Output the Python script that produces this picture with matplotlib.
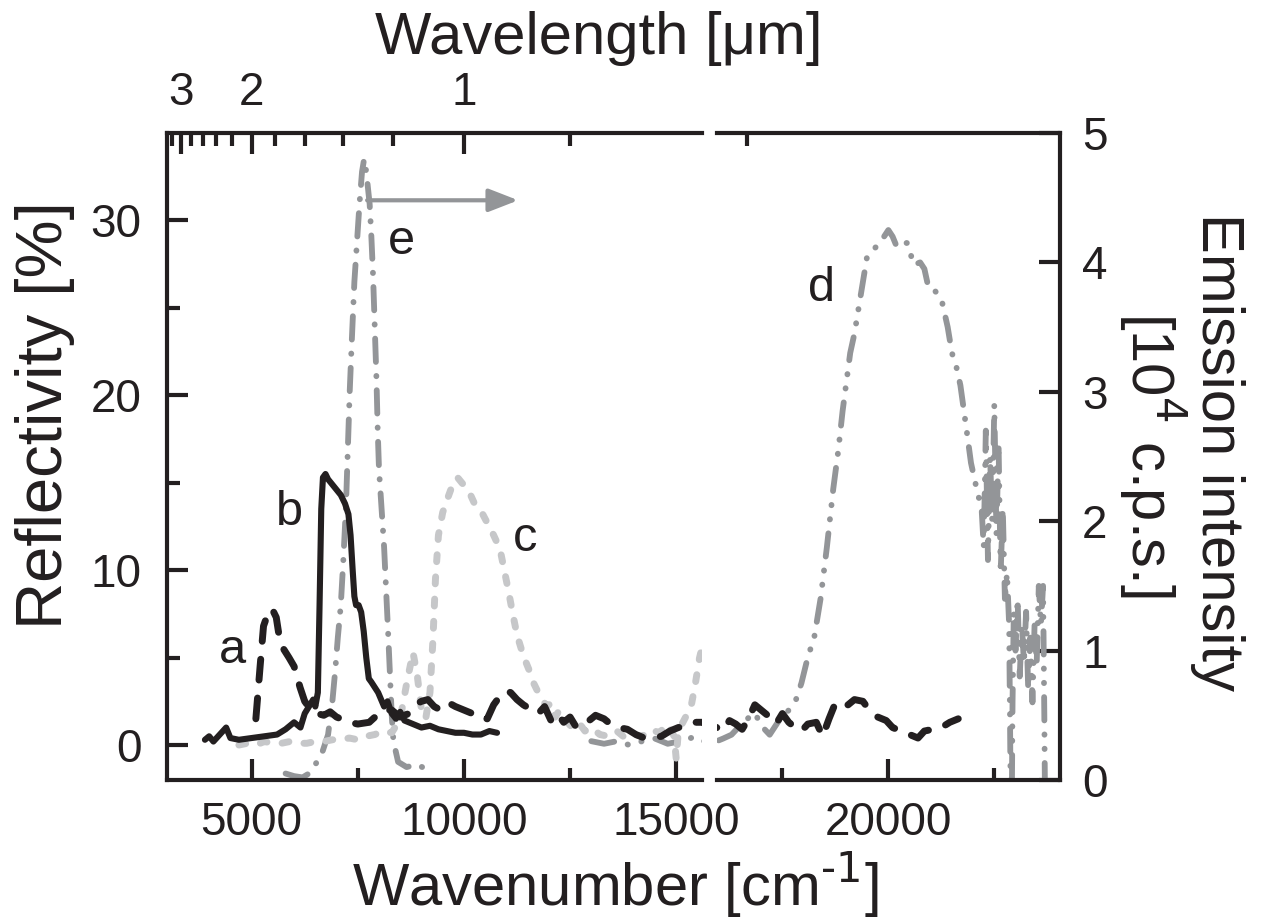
import matplotlib
matplotlib.use('Agg')
import matplotlib.pyplot as plt

plt.rcParams['font.family'] = ['Liberation Sans', 'DejaVu Sans']

# ---------------- data ----------------
# curve a: reflectivity [%] (black, dashed)
a_wn = [5100, 5150, 5200, 5280, 5380, 5480, 5580, 5650, 5750, 5880, 6000, 6140, 6250, 6400,
        6550, 6700, 6850, 7000, 7100, 7300, 7500, 7770, 7950, 8100, 8300, 8500, 8700, 8850,
        9000, 9150, 9300, 9450, 9650, 9800, 10000, 10200, 10350, 10550, 10700, 10850, 11000,
        11100, 11250, 11400, 11600, 11750, 11900, 12050, 12200, 12350, 12500, 12650, 12800,
        12950, 13100, 13300, 13450, 13650, 13850, 14050, 14250, 14450, 14650, 14850, 15050,
        15250, 15450, 15600, 15950, 16100, 16250, 16400, 16550, 16700, 16850, 17000, 17150,
        17350, 17500, 17650, 17800, 17950, 18100, 18300, 18450, 18600, 18750, 18900, 19050,
        19200, 19400, 19550, 19750, 19950, 20100, 20300, 20500, 20700, 20850, 21050, 21250,
        21450, 21650]
a_ref = [1.5, 3.0, 4.5, 6.8, 7.5, 7.8, 7.3, 6.2, 5.5, 5.0, 4.5, 3.3, 2.5, 2.0,
         1.8, 1.7, 1.9, 1.6, 1.5, 1.3, 1.2, 1.3, 1.7, 2.0, 2.0, 1.6, 1.8, 2.3,
         2.5, 2.6, 2.2, 2.0, 2.4, 2.2, 2.0, 1.8, 1.5, 1.5, 2.3, 2.8, 3.1,
         3.0, 2.6, 2.3, 2.0, 1.8, 2.2, 1.4, 1.8, 1.3, 1.6, 1.0, 1.2,
         1.4, 1.7, 1.5, 1.2, 1.0, 0.9, 0.6, 0.4, 0.4, 0.5, 0.8, 1.0,
         1.1, 1.3, 1.3, 1.0, 0.8, 1.4, 1.2, 0.9, 1.5, 2.3, 2.0, 1.7,
         1.2, 1.8, 1.3, 1.0, 0.8, 1.2, 1.3, 0.5, 1.5, 2.4, 2.2, 2.3,
         2.6, 2.5, 2.0, 1.6, 1.4, 1.0, 0.8, 0.6, 0.4, 0.8, 0.9, 1.0,
         1.3, 1.5]

# curve b: reflectivity [%] (black, solid)
b_wn = [3900, 4000, 4100, 4250, 4400, 4500, 4700, 5000, 5300, 5600, 5800, 6000, 6150, 6250,
        6350, 6450, 6500, 6560, 6600, 6640, 6680, 6740, 6800, 6900, 7000, 7100, 7200, 7280,
        7330, 7380, 7420, 7460, 7520, 7580, 7640, 7700, 7760, 7820, 7900, 7980, 8050, 8120,
        8200, 8300, 8400, 8500, 8600, 8800, 9000, 9200, 9400, 9600, 9800, 10000, 10200,
        10400, 10600, 10780]
b_ref = [0.3, 0.5, 0.2, 0.6, 1.0, 0.4, 0.3, 0.4, 0.5, 0.6, 0.9, 1.3, 1.0, 1.8,
         2.2, 2.6, 2.2, 3.0, 8.0, 13.5, 15.3, 15.5, 15.2, 14.9, 14.6, 14.3, 13.8, 13.2,
         12.0, 10.0, 8.5, 8.0, 8.0, 7.6, 6.5, 5.0, 3.8, 3.6, 3.3, 3.0, 2.6, 2.2,
         2.5, 1.8, 1.5, 1.9, 1.4, 1.2, 1.0, 1.1, 0.9, 0.8, 0.7, 0.7, 0.6,
         0.6, 0.8, 0.7]

# curve c: reflectivity [%] (light grey, short dashes)
c_wn = [4700, 4900, 5100, 5300, 5500, 5700, 5900, 6100, 6300, 6500, 6700, 6900, 7100, 7300,
        7500, 7700, 7900, 8100, 8300, 8500, 8650, 8800, 8900, 9000, 9100, 9200, 9270, 9330,
        9400, 9500, 9600, 9750, 9850, 9950, 10100, 10250, 10400, 10550, 10700, 10850, 10950,
        11050, 11150, 11250, 11350, 11450, 11550, 11650, 11750, 11850, 11950, 12050, 12150,
        12250, 12400, 12550, 12700, 12850, 13000, 13200, 13400, 13600, 13800, 14000, 14200,
        14400, 14600, 14800, 14950, 15000, 15050, 15200, 15350, 15450, 15550, 15600]
c_ref = [0.0, 0.1, 0.0, 0.2, 0.1, 0.1, 0.2, 0.1, 0.1, 0.2, 0.2, 0.3, 0.3, 0.4,
         0.3, 0.5, 0.6, 0.8, 0.7, 1.5, 3.5, 5.3, 4.0, 2.0, 1.5, 3.0, 6.0, 9.5,
         12.0, 13.3, 14.0, 15.0, 15.3, 15.0, 14.6, 13.8, 13.4, 12.7, 12.0, 11.2, 10.0,
         8.8, 7.5, 6.3, 5.5, 4.8, 4.2, 3.5, 3.0, 2.6, 2.2, 2.4, 1.6,
         2.0, 1.4, 1.0, 1.3, 0.8, 1.0, 0.6, 0.5, 0.8, 0.4, 0.6, 0.5,
         0.9, 0.7, 1.2, 0.5, -0.8, 0.8, 1.5, 2.2, 3.5, 5.0, 5.5]

# curve d: emission [10^4 c.p.s.] (mid grey, dash-dot-dot)
d_wn = [13000, 13300, 13600, 13900, 14200, 14500, 14800, 15100, 15400, 15600, 15950, 16100,
        16300, 16500, 16700, 16850, 17000, 17200, 17400, 17600, 17800, 17950, 18100, 18250,
        18400, 18550, 18700, 18820, 18920, 19000, 19100, 19200, 19300, 19400, 19500, 19650,
        19800, 19900, 20000, 20100, 20200, 20350, 20450, 20600, 20750, 20850, 20950, 21100,
        21250, 21400, 21500, 21600, 21700, 21780, 21860, 21950, 22050, 22120, 22200, 22250,
        22300, 22350, 22400, 22450, 22500, 22550, 22600, 22650, 22700, 22750, 22800, 22850,
        22870, 22890, 22910, 22930, 22960, 23000, 23050, 23100, 23150, 23200, 23250, 23300,
        23350, 23400, 23450, 23500, 23550, 23600, 23650, 23680, 23700]
d_em = [0.30, 0.28, 0.30, 0.27, 0.30, 0.32, 0.28, 0.30, 0.33, 0.30, 0.30, 0.32,
        0.35, 0.42, 0.48, 0.52, 0.42, 0.35, 0.45, 0.52, 0.60, 0.75, 0.95, 1.10,
        1.40, 1.80, 2.25, 2.55, 2.85, 3.05, 3.30, 3.45, 3.65, 3.85, 4.05, 4.10,
        4.15, 4.20, 4.25, 4.20, 4.12, 4.15, 4.15, 3.98, 4.00, 3.95, 3.80, 3.78,
        3.72, 3.50, 3.30, 3.20, 3.05, 2.86, 2.67, 2.45, 2.30, 2.20, 2.10, 1.80,
        2.70, 1.70, 2.50, 2.00, 2.90, 1.90, 2.60, 1.60, 2.10, 1.40, 1.60, 1.20,
        0.50, -0.30, -0.30, 0.60, 1.30, 1.00, 1.40, 0.80, 1.20, 0.90, 1.30, 0.70,
        1.10, 0.60, 1.20, 0.90, 1.50, 1.20, 1.50, 0.50, -0.30]

# curve e: emission [10^4 c.p.s.] (mid grey, dash-dot)
e_wn = [5800, 6000, 6200, 6350, 6500, 6650, 6800, 6900, 6970, 7030, 7100, 7160, 7220, 7270,
        7310, 7360, 7420, 7480, 7540, 7600, 7650, 7700, 7780, 7820, 7860, 7900, 7940, 7970,
        8000, 8060, 8120, 8170, 8220, 8260, 8300, 8340, 8450, 8650, 8900, 9130]
e_em = [0.05, 0.03, 0.02, 0.05, 0.12, 0.20, 0.35, 0.60, 0.85, 1.10, 1.35, 1.70, 2.10, 2.60,
        3.00, 3.40, 3.85, 4.15, 4.45, 4.70, 4.80, 4.70, 4.45, 4.20, 3.90, 3.50, 3.10, 2.70,
        2.40, 2.10, 1.80, 1.45, 1.10, 0.80, 0.50, 0.30, 0.14, 0.10, 0.12, 0.08]

# axes ticks / labels
refl_major = [0, 10, 20, 30]
refl_minor = [5, 15, 25]
em_major = [0, 1, 2, 3, 4, 5]
wn_major = [5000, 10000, 15000, 20000]
wn_minor = [7500, 12500, 17500, 22500]
wl_major = [1, 2, 3]
wl_minor = [0.6, 0.8, 1.2, 1.4, 1.6, 1.8, 2.2, 2.4, 2.6, 2.8, 3.2]

# ---------------- style ----------------
BLACK = '#231f20'
MID = '#939598'
LIGHT = '#c6c7c9'

W, H = 1266, 919
fig = plt.figure(figsize=(W / 100, H / 100), dpi=100)


def fx(px):
    return px / W


def fy(py):
    return 1 - py / H


TOP, BOT = 133, 780
L1, R1, L2, R2 = 166.7, 701.7, 716.7, 1060
ax1 = fig.add_axes([fx(L1), fy(BOT), fx(R1) - fx(L1), fy(TOP) - fy(BOT)])
ax2 = fig.add_axes([fx(L2), fy(BOT), fx(R2) - fx(L2), fy(TOP) - fy(BOT)])
e1 = ax1.twinx()
e2 = ax2.twinx()

for ax in (ax1, ax2):
    ax.set_ylim(-2, 35)
for ax in (e1, e2):
    ax.set_ylim(0, 5)

SPW = 3.0
TC = dict(direction='in', width=SPW, color=BLACK, labelcolor=BLACK)
for ax in (ax1, ax2, e1, e2):
    for s in ax.spines.values():
        s.set_visible(False)
        s.set_linewidth(SPW)
        s.set_color(BLACK)
    ax.patch.set_visible(False)

ax1.spines['left'].set_visible(True)
for ax in (ax1, ax2):
    ax.spines['top'].set_visible(True)
    ax.spines['bottom'].set_visible(True)
e2.spines['right'].set_visible(True)

FS = 33
# left panel y
ax1.set_yticks(refl_major)
ax1.set_yticks(refl_minor, minor=True)
ax1.tick_params(axis='y', which='both', left=True, right=False, labelleft=True,
                labelsize=FS, pad=18, **TC)
ax1.tick_params(axis='y', which='major', length=15)
ax1.tick_params(axis='y', which='minor', length=9)
ax2.set_yticks([])
ax2.tick_params(axis='y', which='both', left=False, right=False, labelleft=False)
e1.set_yticks([])
e1.tick_params(axis='y', which='both', left=False, right=False, labelright=False)
e2.set_yticks(em_major)
e2.tick_params(axis='y', which='major', right=True, labelright=True, length=15,
               labelsize=FS, pad=16, **TC)
e2.tick_params(axis='y', which='minor', right=False)

for ax in (ax1, ax2):
    ax.set_xticks(wn_major)
    ax.set_xticks(wn_minor, minor=True)
    ax.set_xticklabels([str(v) for v in wn_major])
    ax.tick_params(axis='x', which='both', bottom=True, top=False, labelsize=FS,
                   pad=15, **TC)
    ax.tick_params(axis='x', which='major', length=15)
    ax.tick_params(axis='x', which='minor', length=9)
ax1.set_xlim(3000, 15600)
ax2.set_xlim(15950, 24050)

# top wavelength axis (ticks placed at 1e4 / wavelength)
for ax in (ax1, ax2):
    sec = ax.secondary_xaxis('top', functions=(lambda x: x, lambda x: x))
    sec.set_xticks([1e4 / v for v in wl_major])
    sec.set_xticklabels([str(v) for v in wl_major])
    sec.set_xticks([1e4 / v for v in wl_minor], minor=True)
    sec.tick_params(axis='x', which='both', labelsize=FS, pad=13, **TC)
    sec.tick_params(axis='x', which='major', length=15)
    sec.tick_params(axis='x', which='minor', length=9)
    sec.spines['top'].set_visible(False)

# ---------------- curves ----------------
LW_A, LW_B, LW_C, LW_DE = 5.0, 4.4, 5.0, 4.2
for ax, em in ((ax1, e1), (ax2, e2)):
    ax.plot(c_wn, c_ref, color=LIGHT, lw=LW_C, ls=(0, (1.0, 2.2)),
            dash_capstyle='round', solid_capstyle='round', zorder=2)
    em.plot(e_wn, e_em, color=MID, lw=LW_DE, ls=(0, (4.0, 2.4, 0.05, 2.4)),
            dash_capstyle='round', zorder=3)
    em.plot(d_wn, d_em, color=MID, lw=LW_DE, ls=(0, (4.0, 2.4, 0.05, 2.4, 0.05, 2.4)),
            dash_capstyle='round', zorder=3)
    ax.plot(a_wn, a_ref, color=BLACK, lw=LW_A, ls=(0, (3.0, 2.6)),
            dash_capstyle='round', zorder=4)
    ax.plot(b_wn, b_ref, color=BLACK, lw=LW_B, ls='-', solid_joinstyle='round',
            solid_capstyle='round', zorder=5)

# keep the reflectivity axes (with black curves) above the emission twins
for ax in (ax1, ax2):
    ax.set_zorder(e1.get_zorder() + 1)
    ax.patch.set_visible(False)

# arrow for curve e -> right axis
e1.annotate('', xy=(11280, 4.48), xytext=(7720, 4.48),
            arrowprops=dict(arrowstyle='-|>,head_length=0.9,head_width=0.35',
                            mutation_scale=20, color=MID, lw=3, shrinkA=0, shrinkB=0))

# curve letters
LFS = 35
ax1.text(4540, 5.4, 'a', fontsize=LFS, color=BLACK, ha='center', va='center')
ax1.text(5900, 13.3, 'b', fontsize=LFS, color=BLACK, ha='center', va='center')
ax1.text(11440, 11.8, 'c', fontsize=LFS, color=BLACK, ha='center', va='center')
ax2.text(18430, 26.1, 'd', fontsize=LFS, color=BLACK, ha='center', va='center')
ax1.text(8540, 28.8, 'e', fontsize=LFS, color=BLACK, ha='center', va='center')

# axis titles
AFS = 43
fig.text(fx(615), fy(885), 'Wavenumber [cm$^{\\text{-1}}$]', fontsize=AFS, color=BLACK,
         ha='center', va='center')
fig.text(fx(599), fy(38), 'Wavelength [\u03bcm]', fontsize=AFS, color=BLACK,
         ha='center', va='center')
fig.text(fx(45), fy(415), 'Reflectivity [%]', fontsize=47, color=BLACK,
         ha='center', va='center', rotation=90)
fig.text(fx(1218), fy(452), 'Emission intensity', fontsize=AFS, color=BLACK,
         ha='center', va='center', rotation=270)
fig.text(fx(1152), fy(455), '[10$^4$ c.p.s.]', fontsize=AFS, color=BLACK,
         ha='center', va='center', rotation=270)

fig.savefig('out.png', dpi=100)
